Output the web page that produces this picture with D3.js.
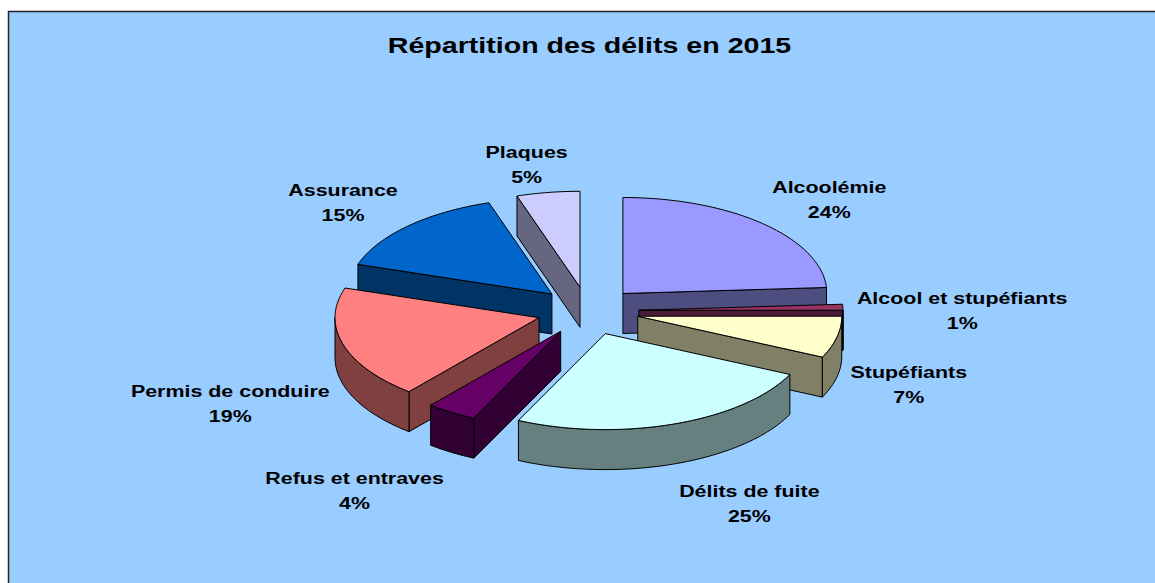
<!DOCTYPE html>
<html>
<head>
<meta charset="utf-8">
<script src="https://cdnjs.cloudflare.com/ajax/libs/d3/7.8.5/d3.min.js"></script>
<style>
  body { margin: 0; background: #fff; }
  .chart text { font-family: "Liberation Sans", Arial, sans-serif; font-weight: bold; fill: #000; }
</style>
</head>
<body>
<div class="chart"></div>
<script>
// Data (clockwise from 12 o'clock)
var categories = ["Alcoolémie", "Alcool et stupéfiants", "Stupéfiants", "Délits de fuite",
  "Refus et entraves", "Permis de conduire", "Assurance", "Plaques"];
var values = [24, 1, 7, 25, 4, 19, 15, 5];
var colors = ["#9999FF", "#993366", "#FFFFCC", "#CCFFFF", "#660066", "#FF8080", "#0066CC", "#CCCCFF"];
var title = "Répartition des délits en 2015";

// Step 0: Set up the chart
//= ================================
var svgWidth = 1155;
var svgHeight = 583;

// 3D pie geometry: ellipse centre, radii, thickness and explosion distance
var cx = 588, cy = 311;
var rx = 204, ry = 96;
var depth = 40;
var explode = 51;
var k = ry / rx;

// Excel stretched the picture sideways, so text is widened too
var labelScale = 1.26;
var labelSize = 17;

var svg = d3
  .select(".chart")
  .append("svg")
  .attr("width", svgWidth)
  .attr("height", svgHeight);

// chart area background
svg
  .append("rect")
  .attr("x", 8.5)
  .attr("y", 11.5)
  .attr("width", 1200)
  .attr("height", 640)
  .attr("fill", "#99CCFF")
  .attr("stroke", "#222")
  .attr("stroke-width", 1.5);

svg
  .append("text")
  .attr("transform", "translate(589.5,53) scale(1.3,1)")
  .attr("text-anchor", "middle")
  .style("font-size", "22px")
  .text(title);

var pie = d3.pie().sort(null).value(function(d) { return d; });
var arcs = pie(values);
var total = d3.sum(values);
var pct = d3.format(".0%");

arcs.forEach(function(d, i) {
  d.mid = (d.startAngle + d.endAngle) / 2;
  // exploded apex of the slice
  d.ox = cx + explode * Math.sin(d.mid);
  d.oy = cy - explode * k * Math.cos(d.mid);
  d.color = colors[i];
  var c = d3.rgb(colors[i]);
  d.side = d3.rgb(c.r / 2, c.g / 2, c.b / 2).toString();
  d.name = categories[i];
  d.pct = pct(d.value / total);
});

function rim(d, a, z) {
  return [d.ox + rx * Math.sin(a), d.oy - ry * Math.cos(a) + z];
}

function arcPoints(d, a0, a1, z) {
  var n = Math.max(2, Math.ceil((a1 - a0) / 0.02));
  return d3.range(n + 1).map(function(j) {
    return rim(d, a0 + (a1 - a0) * j / n, z);
  });
}

var line = d3.line();

function radialFace(d, a) {
  var p = rim(d, a, 0);
  return [[d.ox, d.oy], p, [p[0], p[1] + depth], [d.ox, d.oy + depth]];
}

// paint back slices first
var order = arcs.slice().sort(function(a, b) {
  return -Math.cos(a.mid) - -Math.cos(b.mid);
});

var slices = svg.append("g");

order.forEach(function(d) {
  var g = slices.append("g");
  var faces = [];
  // start face visible when it points towards the viewer
  if (Math.sin(d.startAngle) < -1e-6) faces.push(radialFace(d, d.startAngle));
  if (Math.sin(d.endAngle) > 1e-6) faces.push(radialFace(d, d.endAngle));
  // outer wall, front half only
  var w0 = Math.max(d.startAngle, Math.PI / 2);
  var w1 = Math.min(d.endAngle, Math.PI * 1.5);
  if (w1 > w0) {
    faces.push(arcPoints(d, w0, w1, 0).concat(arcPoints(d, w0, w1, depth).reverse()));
  }
  faces.forEach(function(f) {
    g.append("path")
      .attr("d", line(f) + "Z")
      .attr("fill", d.side)
      .attr("stroke", "#000")
      .attr("stroke-width", 1)
      .attr("stroke-linejoin", "round");
  });
  // top face
  g.append("path")
    .attr("d", line([[d.ox, d.oy]].concat(arcPoints(d, d.startAngle, d.endAngle, 0))) + "Z")
    .attr("fill", d.color)
    .attr("stroke", "#000")
    .attr("stroke-width", 1)
    .attr("stroke-linejoin", "round");
});

// data labels, placed outside each slice
function clamp3(x) { return Math.max(-1, Math.min(1, 3 * x)); }

var labels = svg.append("g");
arcs.forEach(function(d) {
  var g = labels.append("g");
  var t1 = g.append("text").attr("text-anchor", "middle").style("font-size", labelSize + "px").text(d.name);
  var t2 = g.append("text").attr("text-anchor", "middle").style("font-size", labelSize + "px").text(d.pct);
  var w = Math.max(t1.node().getComputedTextLength(), t2.node().getComputedTextLength()) * labelScale;
  var h = 37;
  var s = Math.sin(d.mid), c = Math.cos(d.mid);
  var gap = c > 0 ? ry + 15 : ry + 17;
  var lx = d.ox + (rx + 14) * s + (w / 2) * clamp3(s);
  var ly = d.oy + 5 - gap * c - (h / 2) * clamp3(c) + depth * Math.max(0, clamp3(-c));
  t1.attr("transform", "translate(" + lx + "," + (ly - 6.35) + ") scale(" + labelScale + ",1)");
  t2.attr("transform", "translate(" + lx + "," + (ly + 18.65) + ") scale(" + labelScale + ",1)");
});
</script>
</body>
</html>
